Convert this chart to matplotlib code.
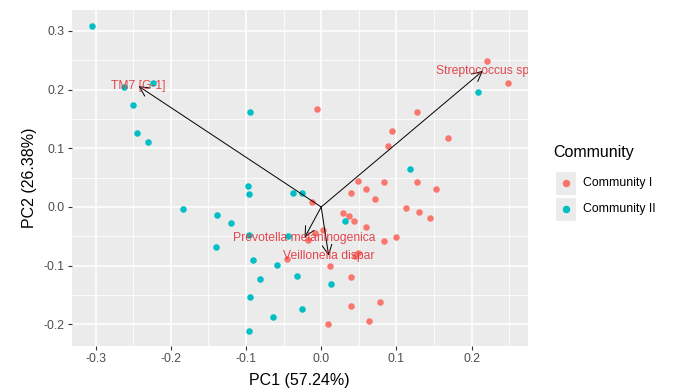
import matplotlib
matplotlib.use("Agg")
import matplotlib.pyplot as plt
from matplotlib.patches import Rectangle
from matplotlib.lines import Line2D

plt.rcParams['font.family'] = ['Liberation Sans', 'DejaVu Sans']
plt.rcParams['axes.unicode_minus'] = False

# Community I samples (PC1, PC2)
c1_x = [-0.006, 0.221, 0.248, 0.127, 0.094, 0.089, 0.169, 0.049, 0.084, 0.128,
        0.153, 0.040, 0.060, 0.071, -0.012, 0.113, 0.130, 0.145, 0.029, 0.037,
        0.043, 0.060, 0.002, -0.008, 0.099, 0.083, -0.017, 0.049, 0.045, 0.012,
        0.040, 0.040, 0.078, 0.063, 0.009, -0.045]
c1_y = [0.167, 0.248, 0.212, 0.161, 0.129, 0.104, 0.117, 0.044, 0.042, 0.042,
        0.031, 0.024, 0.031, 0.014, 0.009, -0.002, -0.008, -0.019, -0.010, -0.015,
        -0.024, -0.034, -0.039, -0.044, -0.051, -0.058, -0.056, -0.079, -0.083, -0.101,
        -0.119, -0.168, -0.162, -0.195, -0.199, -0.089]

# Community II samples (PC1, PC2)
c2_x = [-0.305, -0.224, -0.262, -0.250, -0.245, -0.230, -0.094, -0.097, -0.096, -0.038,
        -0.026, 0.208, 0.118, 0.032, 0.013, -0.025, -0.184, -0.139, -0.120, -0.096,
        -0.044, -0.140, -0.091, -0.059, -0.082, -0.032, -0.094, -0.064, -0.096]
c2_y = [0.308, 0.211, 0.204, 0.174, 0.126, 0.111, 0.161, 0.035, 0.022, 0.024,
        0.024, 0.196, 0.065, -0.024, -0.132, -0.173, -0.003, -0.014, -0.028, -0.047,
        -0.049, -0.068, -0.090, -0.099, -0.123, -0.118, -0.153, -0.188, -0.212]

# Loading vectors
taxa = ["TM7 [G-1]", "Streptococcus sp", "Prevotella melaninogenica", "Veillonella dispar"]
load_x = [-0.243, 0.215, -0.022, 0.010]
load_y = [0.206, 0.232, -0.052, -0.083]

groups = ["Community I", "Community II"]
colors = ["#F8766D", "#00BFC4"]

xticks = [-0.3, -0.2, -0.1, 0.0, 0.1, 0.2]
yticks = [-0.2, -0.1, 0.0, 0.1, 0.2, 0.3]

W, H = 677, 389
fig = plt.figure(figsize=(W / 100, H / 100), dpi=100)
ax = fig.add_axes([71.5 / W, 1 - 346 / H, (528 - 71.5) / W, (346 - 10) / H])
ax.set_facecolor("#EBEBEB")
for s in ax.spines.values():
    s.set_visible(False)

ax.set_xlim(-0.332, 0.275)
ax.set_ylim(-0.2368, 0.3356)
ax.set_xticks(xticks)
ax.set_yticks(yticks)
ax.set_xticklabels([f"{v:.1f}" for v in xticks])
ax.set_yticklabels([f"{v:.1f}" for v in yticks])
ax.set_xticks([-0.25, -0.15, -0.05, 0.05, 0.15, 0.25], minor=True)
ax.set_yticks([-0.15, -0.05, 0.05, 0.15, 0.25], minor=True)
ax.grid(True, which="major", color="white", lw=1.1)
ax.grid(True, which="minor", color="white", lw=0.55)
ax.set_axisbelow(True)
ax.tick_params(which="major", length=3.0, width=0.8, color="#333333",
               labelcolor="#4D4D4D", labelsize=8.8, pad=2)
ax.tick_params(which="minor", length=0)

ax.set_xlabel("PC1 (57.24%)", fontsize=11.5, color="black", labelpad=6)
ax.set_ylabel("PC2 (26.38%)", fontsize=11.5, color="black", labelpad=5)

ax.scatter(c1_x, c1_y, s=22, color=colors[0], lw=0, zorder=3)
ax.scatter(c2_x, c2_y, s=22, color=colors[1], lw=0, zorder=3)

for name, lx, ly in zip(taxa, load_x, load_y):
    ax.annotate("", xy=(lx, ly), xytext=(0, 0),
                arrowprops=dict(arrowstyle="->,head_length=0.7,head_width=0.35",
                                lw=0.7, color="black", shrinkA=0, shrinkB=0,
                                mutation_scale=10), zorder=4)
    ax.text(lx, ly, name, ha="center", va="center", fontsize=8.7,
            color="#E0353D", alpha=0.9, clip_on=True, zorder=5)

# Legend
fig.text(553 / W, 1 - 152 / H, "Community", fontsize=11.5, ha="left", va="center")
for i, (g, c) in enumerate(zip(groups, colors)):
    yc = 183 + i * 26
    fig.add_artist(Rectangle((555 / W, 1 - (yc + 12) / H), 21 / W, 24 / H,
                             transform=fig.transFigure, facecolor="#EBEBEB",
                             edgecolor="white", lw=0.8))
    fig.add_artist(Line2D([566 / W], [1 - yc / H], marker="o", markersize=4.4,
                          color=c, lw=0, transform=fig.transFigure))
    fig.text(583 / W, 1 - yc / H, g, fontsize=8.8, ha="left", va="center")

fig.savefig("out.png", dpi=100)
